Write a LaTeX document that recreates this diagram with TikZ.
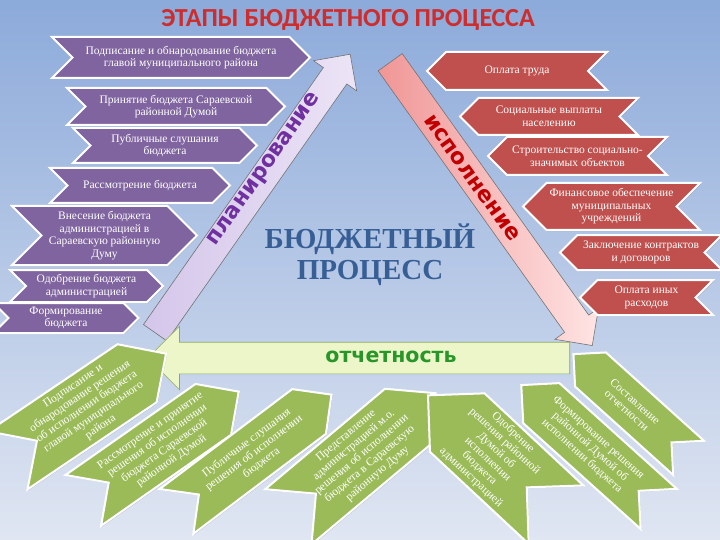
\documentclass[tikz,border=0pt]{standalone}
\usepackage{fontspec}
\setmainfont{Liberation Serif}
\newfontfamily\headfont{Carlito}
\newfontfamily\arrowfont{DejaVu Sans}
\usetikzlibrary{shapes.symbols,shapes.arrows,shadows}

\definecolor{bgtop}{RGB}{140,170,218}
\definecolor{bgbottom}{RGB}{224,230,242}
\definecolor{planviolet}{RGB}{128,100,160}
\definecolor{execred}{RGB}{192,80,77}
\definecolor{reportgreen}{RGB}{155,187,89}
\definecolor{titlered}{RGB}{205,45,45}
\definecolor{centreblue}{RGB}{55,95,150}
\definecolor{plantext}{RGB}{112,48,160}
\definecolor{exectext}{RGB}{192,0,0}
\definecolor{reporttext}{RGB}{40,150,40}

\tikzset{
  box/.style={signal, signal pointer angle=90, draw=white, line width=2pt,
    text=white, align=center, inner sep=1pt,
    font=\fontsize{11.5}{12.5}\selectfont,
    drop shadow={shadow xshift=1pt, shadow yshift=-1pt, opacity=.35}},
  planbox/.style 2 args={box, fill=planviolet, signal from=west, signal to=east,
    minimum width=#1, minimum height=#2},
  execbox/.style 2 args={box, fill=execred, signal from=east, signal to=west,
    minimum width=#1, minimum height=#2},
  reportbox/.style 2 args={box, fill=reportgreen, signal from=west, signal to=east,
    font=\fontsize{11.5}{12.3}\selectfont, minimum width=#1, minimum height=#2},
  backbox/.style 2 args={box, fill=reportgreen, signal from=east, signal to=west,
    font=\fontsize{11.5}{12.3}\selectfont, minimum width=#1, minimum height=#2},
  bigarrow/.style={single arrow, single arrow tip angle=90, anchor=tail,
    line width=.6pt, inner sep=0pt},
  arrowlabel/.style={font=\arrowfont\bfseries\fontsize{22}{22}\selectfont}
}

\begin{document}
\begin{tikzpicture}[x=1pt, y=-1pt]
  \useasboundingbox (0,0) rectangle (720,540);
  \fill[top color=bgtop, bottom color=bgbottom] (0,0) rectangle (720,540);

  \node[font=\headfont\bfseries\fontsize{26}{26}\selectfont, text=titlered] (title) at (348,20) {ЭТАПЫ БЮДЖЕТНОГО ПРОЦЕССА};

  %% the three big arrows
  \node[bigarrow, inner ysep=14pt, single arrow head extend=12pt, minimum height=340,
    draw=black!55, left color={rgb,255:red,212;green,198;blue,234}, right color={rgb,255:red,236;green,228;blue,246},
    rotate=55] (plan) at (155,333) {};
  \node[bigarrow, inner ysep=14.5pt, single arrow head extend=12pt, minimum height=348,
    draw=black!55, left color={rgb,255:red,240;green,150;blue,150}, right color={rgb,255:red,255;green,228;blue,228},
    rotate=-54.5] (exec) at (390,62) {};
  \node[bigarrow, inner ysep=15.5pt, single arrow head extend=16pt, minimum height=422,
    draw={rgb,255:red,140;green,170;blue,100}, fill={rgb,255:red,236;green,246;blue,200},
    shape border rotate=180, anchor=tail] (report) at (570,358) {};

  \node[arrowlabel, text=plantext, rotate=55] (plantitle) at (265,170) {планирование};
  \node[arrowlabel, text=exectext, rotate=-54.5] (exectitle) at (472,178) {исполнение};
  \node[arrowlabel, text=reporttext, font=\arrowfont\bfseries\fontsize{20.5}{20.5}\selectfont] (reporttitle) at (391,357) {отчетность};

  \node[font=\bfseries\fontsize{29}{31}\selectfont, text=centreblue, align=center] (budget) at (370,255) {БЮДЖЕТНЫЙ\\ПРОЦЕСС};

  %% planning
  \node[planbox={258}{41}] (sign) at (181,57.5) {Подписание и обнародование бюджета\\главой муниципального района};
  \node[planbox={218}{37}] (adopt) at (176,106.5) {Принятие бюджета Сараевской\\районной Думой};
  \node[planbox={184}{35}] (hearing) at (165,145.5) {Публичные слушания\\бюджета};
  \node[planbox={180}{35}] (review) at (140,185.5) {Рассмотрение бюджета};
  \node[planbox={185}{59}] (submit) at (104.5,235.5) {Внесение бюджета\\администрацией в\\Сараевскую районную\\Думу};
  \node[planbox={153}{32}] (approve) at (86.5,286) {Одобрение бюджета\\администрацией};
  \node[planbox={145}{30}] (draft) at (66,318) {Формирование\\бюджета};

  %% execution
  \node[execbox={180}{38}] (wages) at (517,71) {Оплата труда};
  \node[execbox={178}{37}] (social) at (549,116.5) {Социальные выплаты\\населению};
  \node[execbox={179}{38}] (build) at (577.5,156) {Строительство социально-\\значимых объектов};
  \node[execbox={177}{47}] (fund) at (611.5,206.5) {Финансовое обеспечение\\муниципальных\\учреждений};
  \node[execbox={162}{35}] (contract) at (641,252.5) {Заключение контрактов\\и договоров};
  \node[execbox={133}{35}] (other) at (646.5,297.5) {Оплата иных\\расходов};

  %% reporting
  \node[reportbox={172}{70}, rotate=34] (rsign) at (87,407) {Подписание и\\обнародование решения\\об исполнении бюджета\\главой муниципального\\района};
  \node[reportbox={179}{62}, rotate=35] (rreview) at (161,446) {Рассмотрение и принятие\\решения об исполнении\\бюджета  Сараевской\\районной Думой};
  \node[reportbox={194}{56}, rotate=37] (rhearing) at (254,453) {Публичные слушания\\решения об исполнении\\бюджета};
  \node[reportbox={170}{72}, rotate=40] (rsubmit) at (362,455) {Представление\\администрацией м.о.\\решения об исполнении\\бюджета в Сараевскую\\районную Думу};
  \node[backbox={175}{80}, rotate=-43] (rapprove) at (492,455) {Одобрение\\решения районной\\Думой об\\исполнении\\бюджета\\администрацией};
  \node[backbox={185}{54}, rotate=-42] (rdraft) at (590,447) {Формирование решения\\районной Думой об\\исполнении бюджета};
  \node[backbox={155}{46}, rotate=-42] (rreport) at (631,406) {Составление\\отчетности};
\end{tikzpicture}
\end{document}
